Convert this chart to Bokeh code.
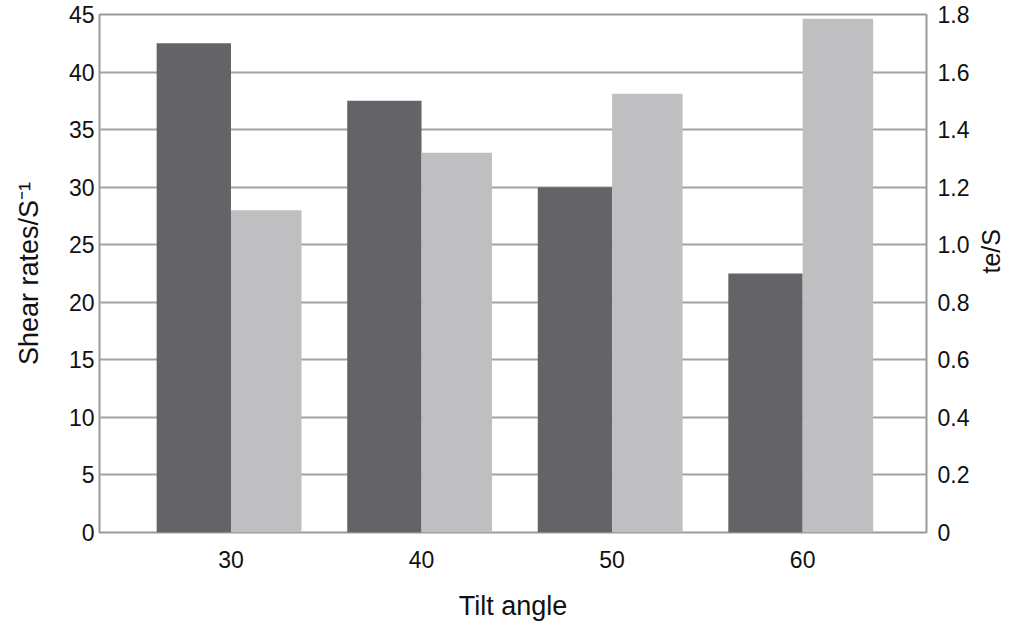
import math
from bokeh.plotting import figure
from bokeh.models import Range1d, LinearAxis, FixedTicker, ColumnDataSource, PrintfTickFormatter
from bokeh.transform import dodge
from bokeh.embed import file_html
from bokeh.resources import INLINE

tilt_angles = [30, 40, 50, 60]
shear_rates = [42.5, 37.5, 30.0, 22.5]
te_values = [1.12, 1.32, 1.525, 1.785]
left_ticks = [0, 5, 10, 15, 20, 25, 30, 35, 40, 45]
right_ticks = [0, 0.2, 0.4, 0.6, 0.8, 1.0, 1.2, 1.4, 1.6, 1.8]

FONT = "Liberation Sans"
W, H = 1022, 632

p = figure(width=W, height=H, output_backend="svg", toolbar_location=None,
           x_range=Range1d(23.1, 66.5), y_range=Range1d(0, 45),
           min_border_left=99, min_border_right=W - 926, min_border_top=14,
           min_border_bottom=H - 532)
p.extra_y_ranges = {"te": Range1d(0, 1.8)}

src = ColumnDataSource(dict(x=tilt_angles, shear=shear_rates, te=te_values))
p.vbar(x=dodge("x", -1.95), top="shear", width=3.9, source=src,
       fill_color="#646367", line_color=None)
p.vbar(x=dodge("x", 1.85), top="te", width=3.7, source=src,
       fill_color="#bfbfc1", line_color=None, y_range_name="te")

p.xgrid.visible = False
p.ygrid.ticker = FixedTicker(ticks=left_ticks)
p.ygrid.grid_line_color = "#a3a3a3"
p.ygrid.grid_line_width = 2
p.ygrid.level = "underlay"

p.outline_line_color = "#9a9a9a"
p.outline_line_width = 2
p.background_fill_color = "white"

def style(ax):
    ax.axis_line_color = None
    ax.major_tick_line_color = None
    ax.minor_tick_line_color = None
    ax.major_tick_out = 0
    ax.major_tick_in = 0
    ax.major_label_text_font = FONT
    ax.major_label_text_font_size = "23px"
    ax.major_label_text_color = "#111111"
    ax.axis_label_text_font = FONT
    ax.axis_label_text_font_size = "27px"
    ax.axis_label_text_font_style = "normal"
    ax.axis_label_text_color = "#111111"

xa = p.xaxis[0]
style(xa)
xa.ticker = FixedTicker(ticks=tilt_angles)
xa.axis_label = "Tilt angle"
xa.major_label_standoff = 18
xa.axis_label_standoff = 20

ya = p.yaxis[0]
style(ya)
ya.ticker = FixedTicker(ticks=left_ticks)
ya.major_label_standoff = 5
ya.axis_label = "Shear rates/S\u207b\u00b9"
ya.axis_label_standoff = 22

ra = LinearAxis(y_range_name="te", ticker=FixedTicker(ticks=right_ticks),
                formatter=PrintfTickFormatter(format="%.1f"), axis_label="te/S")
style(ra)
ra.major_label_standoff = 11
ra.major_label_overrides = {0: "0"}
ra.axis_label_standoff = 19
ra.axis_label_text_font_size = "25px"
ra.axis_label_orientation = math.pi / 2
p.add_layout(ra, "right")

open("out.html", "w").write(file_html(p, INLINE))
